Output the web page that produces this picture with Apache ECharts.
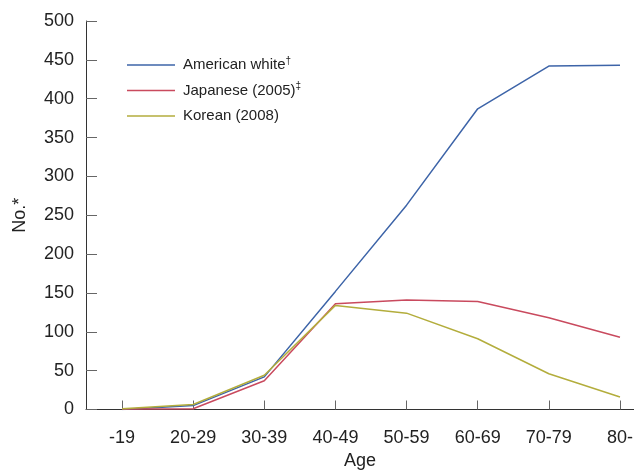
<!DOCTYPE html>
<html>
<head>
<meta charset="utf-8">
<script src="https://cdn.jsdelivr.net/npm/echarts@6/dist/echarts.min.js"></script>
<style>
  html, body { margin: 0; padding: 0; background: #fff; }
  #chart { width: 634px; height: 472px; }
</style>
</head>
<body>
<div id="chart"></div>
<script>
// age groups and counts
var ageGroups = ["-19", "20-29", "30-39", "40-49", "50-59", "60-69", "70-79", "80-"];
var americanWhite = [0, 5, 42, 152, 263, 387, 442, 443];
var japanese2005 = [0.5, 1, 37, 136, 141, 139, 118, 93];
var korean2008 = [1, 6.5, 44, 134, 124, 91, 46, 16];
var yTicks = [0, 50, 100, 150, 200, 250, 300, 350, 400, 450, 500];

var seriesNames = ["American white", "Japanese (2005)", "Korean (2008)"];
var seriesMarks = ["†", "‡", ""];
var seriesColors = ["#3d64a8", "#c94a5e", "#b3ad3c"];
var seriesData = [americanWhite, japanese2005, korean2008];

var font = "'Liberation Sans Narrow', 'Liberation Sans', Arial, sans-serif";

var myChart = echarts.init(document.getElementById("chart"));

var option = {
  animation: false,
  textStyle: { fontFamily: font },
  grid: { left: 86, right: 0, top: 21, bottom: 62.5, containLabel: false, outerBoundsMode: "none" },
  legend: {
    orient: "vertical",
    left: 122,
    top: 51,
    icon: "rect",
    itemWidth: 48,
    itemHeight: 1.5,
    itemGap: 7.5,
    data: seriesNames,
    formatter: function (name) {
      var m = seriesMarks[seriesNames.indexOf(name)];
      return m ? name + "{sup|" + m + "}" : name;
    },
    textStyle: {
      fontFamily: font,
      fontSize: 15,
      color: "#222",
      lineHeight: 18,
      padding: [0, 0, 0, 3],
      rich: {
        sup: { fontSize: 10, verticalAlign: "top", lineHeight: 18, color: "#222" }
      }
    }
  },
  xAxis: {
    type: "value",
    min: -0.506,
    max: 7.197,
    name: "Age",
    nameLocation: "middle",
    nameGap: 42,
    nameTextStyle: { fontSize: 18, color: "#222", fontFamily: font },
    splitLine: { show: false },
    axisLine: { show: true, onZero: false, lineStyle: { color: "#333", width: 1 } },
    axisTick: {
      show: true,
      inside: true,
      length: 9,
      customValues: ageGroups.map(function (v, i) { return i; }),
      lineStyle: { color: "#666" }
    },
    axisLabel: {
      customValues: ageGroups.map(function (v, i) { return i; }),
      formatter: function (v) { return ageGroups[Math.round(v)]; },
      fontSize: 18,
      color: "#222",
      margin: 20,
      fontFamily: font
    }
  },
  yAxis: {
    type: "value",
    min: 0,
    max: 500,
    interval: 50,
    name: "No.*",
    nameLocation: "middle",
    nameGap: 57,
    nameTextStyle: { fontSize: 18, color: "#222", fontFamily: font },
    splitLine: { show: false },
    axisLine: { show: true, onZero: false, lineStyle: { color: "#333", width: 1 } },
    axisTick: { show: true, inside: true, length: 11, lineStyle: { color: "#666" } },
    axisLabel: {
      fontSize: 18,
      color: "#222",
      margin: 12,
      fontFamily: font,
      formatter: function (v) { return yTicks.indexOf(v) >= 0 ? String(v) : ""; }
    }
  },
  series: seriesNames.map(function (name, k) {
    return {
      name: name,
      type: "line",
      symbol: "none",
      color: seriesColors[k],
      lineStyle: { width: 1.5, color: seriesColors[k] },
      data: seriesData[k].map(function (v, i) { return [i, v]; })
    };
  })
};

myChart.setOption(option);
</script>
</body>
</html>
